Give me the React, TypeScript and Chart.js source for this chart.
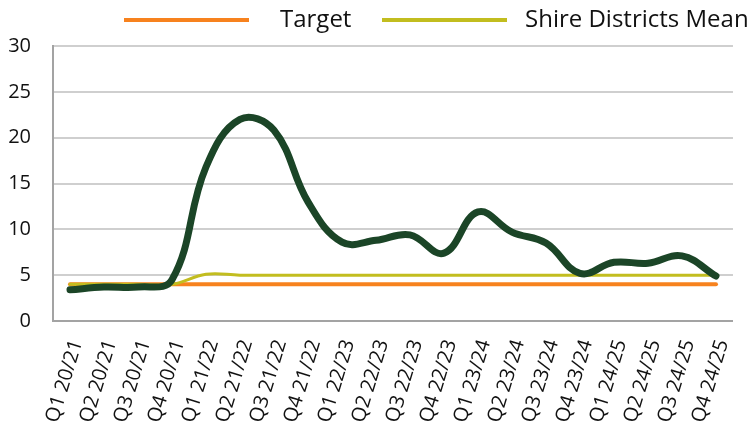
import React, { useEffect, useRef } from "react";
import { Chart, registerables } from "chart.js";

Chart.register(...registerables);

const categories = [
  "Q1 20/21", "Q2 20/21", "Q3 20/21", "Q4 20/21",
  "Q1 21/22", "Q2 21/22", "Q3 21/22", "Q4 21/22",
  "Q1 22/23", "Q2 22/23", "Q3 22/23", "Q4 22/23",
  "Q1 23/24", "Q2 23/24", "Q3 23/24", "Q4 23/24",
  "Q1 24/25", "Q2 24/25", "Q3 24/25", "Q4 24/25",
];

const councilValues = [
  3.4, 3.7, 3.7, 4.5,
  16.8, 22.0, 20.8, 13.0,
  8.6, 8.8, 9.4, 7.4,
  11.9, 9.7, 8.5, 5.2,
  6.4, 6.3, 7.1, 4.9,
];

const targetValues = [
  4, 4, 4, 4, 4, 4, 4, 4, 4, 4,
  4, 4, 4, 4, 4, 4, 4, 4, 4, 4,
];

const shireMeanValues = [
  4.0, 4.0, 4.0, 4.0,
  5.1, 5.0, 5.0, 5.0,
  5.0, 5.0, 5.0, 5.0,
  5.0, 5.0, 5.0, 5.0,
  5.0, 5.0, 5.0, 5.0,
];

const yTicks = [0, 5, 10, 15, 20, 25, 30];

const COLORS = {
  council: "#1B4527",
  target: "#F7821E",
  shire: "#C2BD1F",
  grid: "#CFCFCF",
  axis: "#A3A3A3",
  text: "#111111",
};

const FONT = "'Open Sans', 'Noto Sans', sans-serif";

const legendPlugin = {
  id: "customLegend",
  afterDraw(chart: any, _args: any, opts: any) {
    const ctx = chart.ctx;
    ctx.save();
    (opts.items || []).forEach((it: any) => {
      const ds = chart.data.datasets[it.datasetIndex];
      ctx.strokeStyle = ds.borderColor;
      ctx.lineWidth = 4;
      ctx.lineCap = "butt";
      ctx.beginPath();
      ctx.moveTo(it.lineX, opts.y);
      ctx.lineTo(it.lineX + opts.lineWidth, opts.y);
      ctx.stroke();
      ctx.fillStyle = COLORS.text;
      ctx.font = `24px ${FONT}`;
      ctx.textBaseline = "middle";
      ctx.textAlign = "left";
      ctx.fillText(ds.label, it.textX, opts.y);
    });
    ctx.restore();
  },
};

export default function App() {
  const ref = useRef<HTMLCanvasElement | null>(null);

  useEffect(() => {
    if (!ref.current) return;
    const chart = new Chart(ref.current, {
      type: "line",
      data: {
        labels: categories,
        datasets: [
          {
            label: "Council",
            data: councilValues,
            borderColor: COLORS.council,
            backgroundColor: COLORS.council,
            borderWidth: 7,
            pointRadius: 0,
            tension: 0.4,
            borderCapStyle: "round",
            order: 1,
          },
          {
            label: "Target",
            data: targetValues,
            borderColor: COLORS.target,
            backgroundColor: COLORS.target,
            borderWidth: 4,
            pointRadius: 0,
            tension: 0.4,
            borderCapStyle: "round",
            order: 3,
          },
          {
            label: "Shire Districts Mean",
            data: shireMeanValues,
            borderColor: COLORS.shire,
            backgroundColor: COLORS.shire,
            borderWidth: 3,
            pointRadius: 0,
            tension: 0.4,
            borderCapStyle: "round",
            order: 2,
          },
        ],
      },
      options: {
        animation: false,
        responsive: false,
        maintainAspectRatio: false,
        layout: { padding: { top: 46, right: 3, left: 0, bottom: 0 } },
        plugins: {
          legend: { display: false },
          tooltip: { enabled: false },
          customLegend: {
            y: 20,
            lineWidth: 125,
            items: [
              { datasetIndex: 1, lineX: 124, textX: 280 },
              { datasetIndex: 2, lineX: 382, textX: 525 },
            ],
          },
        } as any,
        scales: {
          x: {
            offset: true,
            grid: { display: false, drawTicks: false },
            border: { display: true, color: COLORS.axis, width: 2 },
            ticks: {
              color: COLORS.text,
              font: { family: FONT, size: 20 },
              minRotation: 73,
              maxRotation: 73,
              autoSkip: false,
              padding: 16,
              labelOffset: 7,
            },
            afterFit(scale: any) {
              scale.height = 104;
            },
          },
          y: {
            min: 0,
            max: 30,
            afterBuildTicks(scale: any) {
              scale.ticks = yTicks.map((v) => ({ value: v }));
            },
            grid: { color: COLORS.grid, lineWidth: 2, drawTicks: false },
            border: { display: true, color: COLORS.axis, width: 2 },
            ticks: {
              color: COLORS.text,
              font: { family: FONT, size: 20 },
              padding: 22,
            },
            afterFit(scale: any) {
              scale.width = 53;
            },
          },
        },
      },
      plugins: [legendPlugin],
    });
    return () => chart.destroy();
  }, []);

  return (
    <div style={{ position: "fixed", left: 0, top: 0, width: 755, height: 425, background: "#fff" }}>
      <canvas ref={ref} width={755} height={425} style={{ width: 755, height: 425 }} />
    </div>
  );
}
